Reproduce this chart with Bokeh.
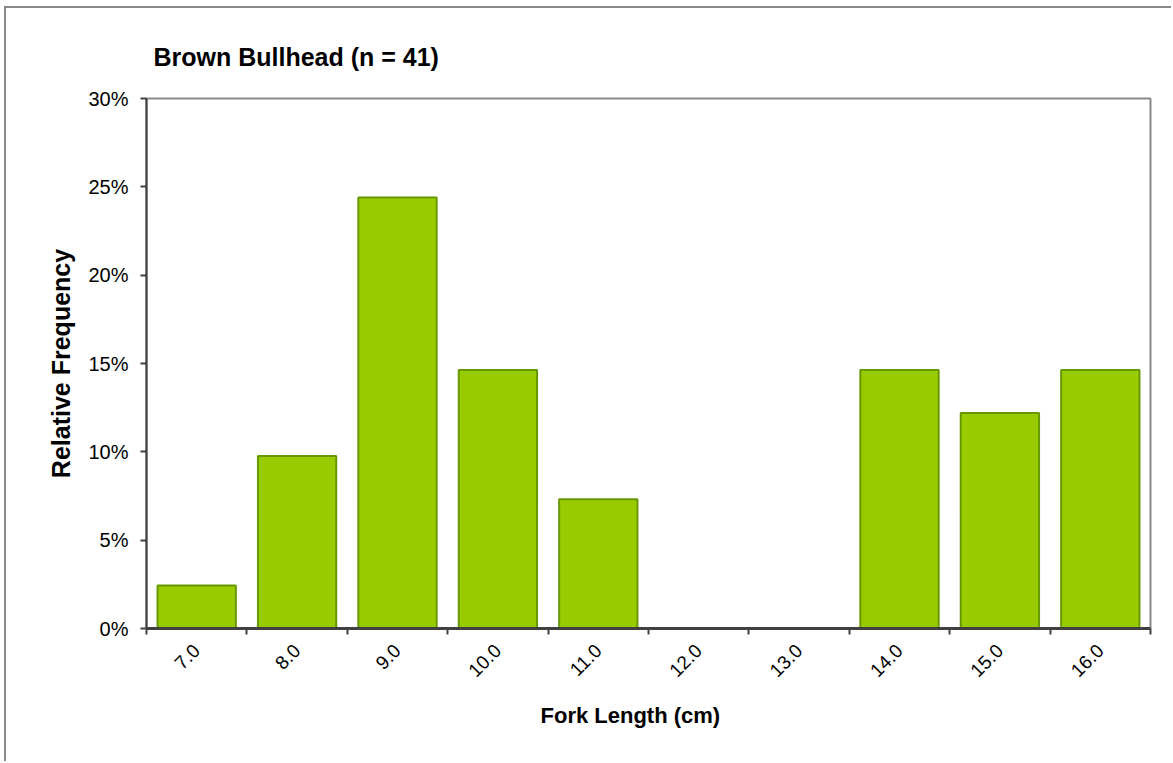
from bokeh.plotting import figure
from bokeh.models import FixedTicker, PrintfTickFormatter, ColumnDataSource, Range1d, Title
from bokeh.embed import file_html
from bokeh.resources import INLINE
from math import pi

lengths = [7.0, 8.0, 9.0, 10.0, 11.0, 12.0, 13.0, 14.0, 15.0, 16.0]
tick_labels = ["7.0", "8.0", "9.0", "10.0", "11.0", "12.0", "13.0", "14.0", "15.0", "16.0"]
rel_freq = [2.44, 9.76, 24.39, 14.63, 7.32, 0.0, 0.0, 14.63, 12.20, 14.63]
y_ticks = [0, 5, 10, 15, 20, 25, 30]

FONT = "Liberation Sans"

src = ColumnDataSource(dict(x=lengths, top=rel_freq))

p = figure(width=1167, height=755, output_backend="svg", toolbar_location=None,
           x_range=Range1d(lengths[0] - 0.5, lengths[-1] + 0.5), y_range=Range1d(0, 30),
           min_border_left=140, min_border_right=23, min_border_top=90, min_border_bottom=135)
p.margin = (6, 0, 0, 4)
p.styles = {"border-top": "2px solid #888888", "border-left": "2px solid #888888"}

p.vbar(x="x", top="top", bottom=0, width=0.78, source=src,
       fill_color="#99CC00", line_color="#669900", line_width=2)

p.grid.visible = False
p.outline_line_color = "#888888"
p.outline_line_width = 2
p.background_fill_color = "white"
p.border_fill_color = "white"

# x axis
xa = p.xaxis[0]
xa.ticker = FixedTicker(ticks=lengths, minor_ticks=[v - 0.5 for v in lengths] + [lengths[-1] + 0.5])
xa.major_label_overrides = {v: t for v, t in zip(lengths, tick_labels)}
xa.major_tick_out = 0
xa.major_tick_in = 0
xa.minor_tick_out = 6
xa.minor_tick_in = 0
xa.minor_tick_line_color = "#404040"
xa.minor_tick_line_width = 2
xa.axis_line_color = "#404040"
xa.axis_line_width = 3
xa.major_label_orientation = pi / 4
xa.major_label_standoff = 13
xa.major_label_text_font = FONT
xa.major_label_text_font_size = "19px"
xa.major_label_text_color = "black"

# y axis
ya = p.yaxis[0]
ya.ticker = FixedTicker(ticks=y_ticks, minor_ticks=[])
ya.formatter = PrintfTickFormatter(format="%d%%")
ya.major_tick_out = 6
ya.major_tick_in = 0
ya.major_tick_line_color = "#404040"
ya.major_tick_line_width = 2
ya.axis_line_color = "#404040"
ya.axis_line_width = 2
ya.major_label_standoff = 12
ya.major_label_text_font = FONT
ya.major_label_text_font_size = "20px"
ya.major_label_text_color = "black"
ya.axis_label = "Relative Frequency"
ya.axis_label_text_font = FONT
ya.axis_label_text_font_size = "25px"
ya.axis_label_text_font_style = "bold"
ya.axis_label_text_color = "black"
ya.axis_label_standoff = 10

title = Title(text="Brown Bullhead (n = 41)", align="left", offset=7, standoff=56,
              text_font=FONT, text_font_size="25px", text_font_style="bold", text_color="black")
p.add_layout(title, "above")

xlabel = Title(text="Fork Length (cm)", align="left", offset=394, standoff=30,
               text_font=FONT, text_font_size="22px", text_font_style="bold", text_color="black")
p.add_layout(xlabel, "below")

open("out.html", "w").write(file_html(p, INLINE))
